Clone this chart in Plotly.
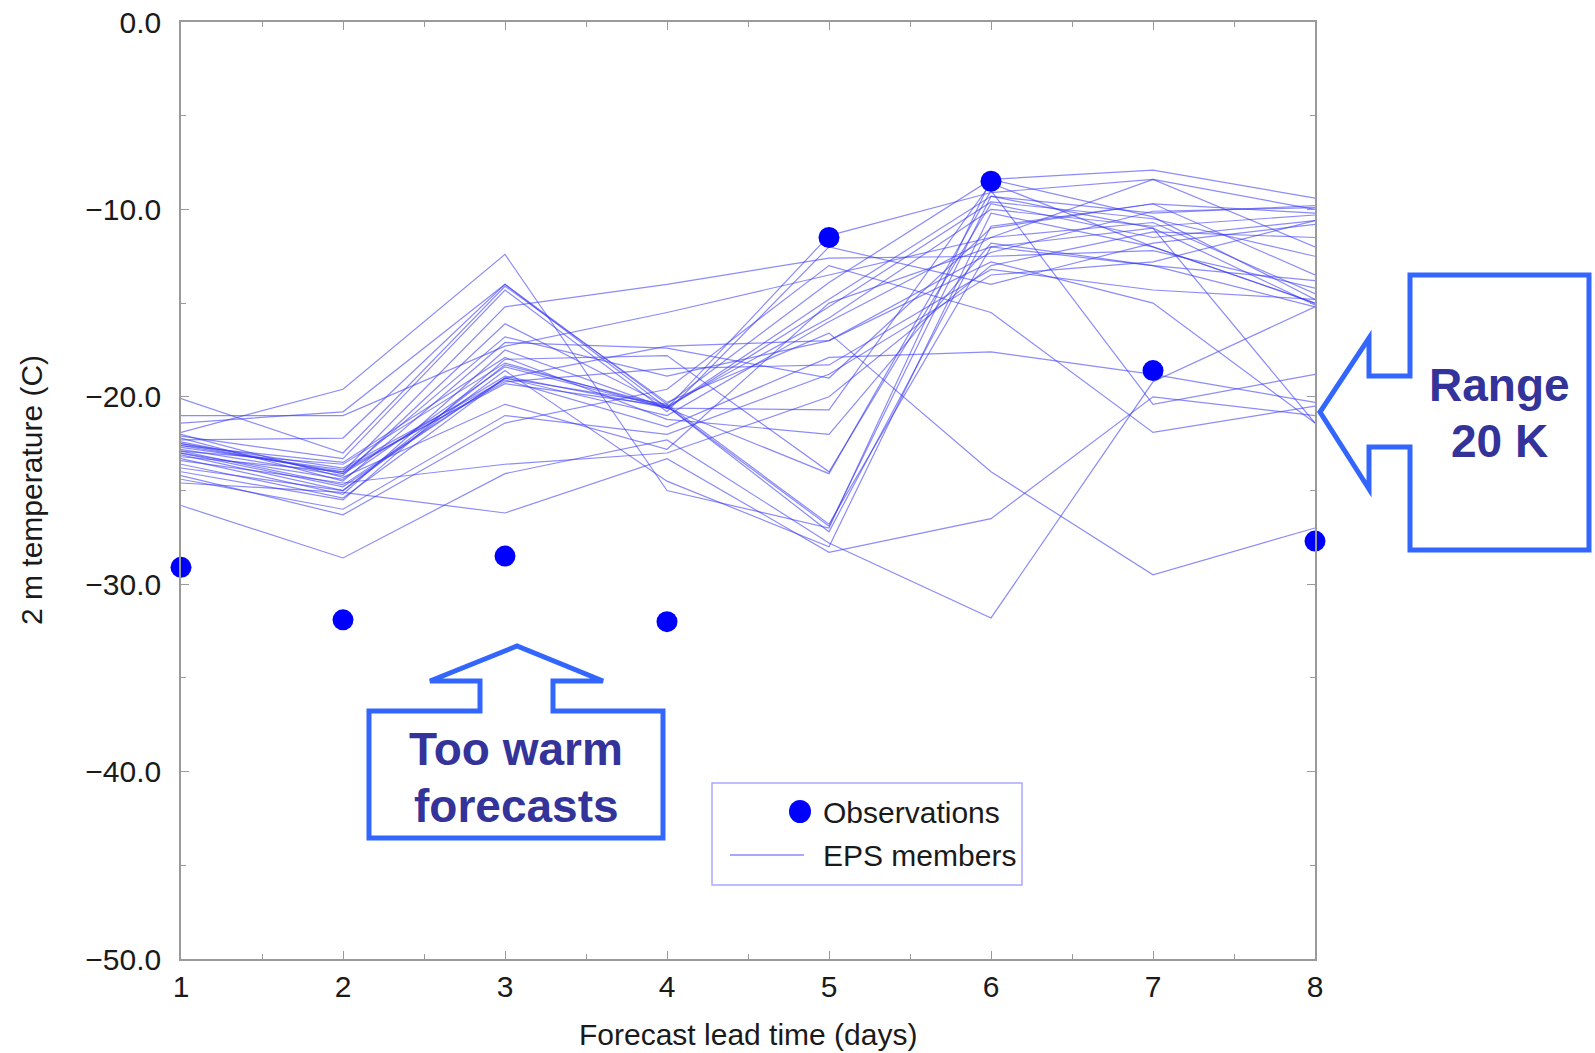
import plotly.graph_objects as go

# ---------------- data ----------------
lead_days = [1, 2, 3, 4, 5, 6, 7, 8]
obs_temp = [-29.1, -31.9, -28.5, -32.0, -11.5, -8.5, -18.6, -27.7]

m01 = [-21.9, -19.6, -12.4, -25.0, -27.0, -8.4, -10.4, -14.8]
m02 = [-21.4, -20.8, -14.0, -20.4, -13.9, -8.4, -7.9, -9.4]
m03 = [-22.3, -22.2, -14.0, -20.6, -11.4, -9.1, -8.4, -10.0]
m04 = [-20.1, -23.0, -14.1, -20.3, -16.6, -24.0, -29.5, -27.0]
m05 = [-22.6, -24.0, -15.2, -14.0, -12.6, -12.5, -12.2, -14.2]
m06 = [-22.8, -24.2, -16.1, -20.5, -15.8, -10.0, -10.9, -10.3]
m07 = [-22.2, -24.5, -17.1, -17.4, -19.0, -11.0, -9.7, -13.5]
m08 = [-23.3, -25.2, -17.5, -20.6, -20.7, -8.6, -12.0, -15.0]
m09 = [-24.0, -25.5, -18.0, -17.8, -24.0, -9.7, -11.5, -10.6]
m10 = [-23.0, -24.8, -19.0, -20.4, -26.8, -12.0, -11.0, -21.4]
m11 = [-22.5, -23.8, -19.1, -21.6, -17.9, -17.6, -18.8, -20.3]
m12 = [-24.6, -25.1, -26.2, -23.3, -28.3, -26.5, -20.0, -21.0]
m13 = [-25.8, -28.6, -24.1, -22.3, -27.8, -31.8, -19.2, -15.2]
m14 = [-23.2, -24.0, -19.2, -18.5, -18.3, -13.2, -14.3, -14.8]
m15 = [-22.9, -23.6, -18.2, -20.6, -14.8, -9.3, -10.2, -9.8]
m16 = [-23.6, -25.4, -19.0, -21.0, -16.0, -11.5, -8.4, -12.0]
m17 = [-22.0, -24.3, -20.4, -22.8, -15.0, -12.0, -13.0, -15.2]
m18 = [-24.2, -26.3, -21.4, -19.6, -13.0, -15.5, -21.9, -20.5]
m19 = [-23.4, -24.6, -23.6, -23.0, -20.0, -13.0, -11.2, -11.5]
m20 = [-22.7, -23.9, -19.3, -20.5, -27.2, -10.9, -9.7, -10.2]
m21 = [-21.0, -21.0, -17.3, -15.5, -13.5, -11.5, -10.7, -14.5]
m22 = [-23.8, -25.0, -18.6, -24.5, -28.0, -10.2, -12.0, -15.0]
m23 = [-22.5, -24.1, -16.8, -18.9, -17.0, -12.8, -15.0, -21.4]
m24 = [-23.0, -24.4, -18.4, -20.6, -24.1, -9.0, -20.4, -18.8]
m25 = [-22.1, -23.3, -14.3, -20.8, -12.0, -14.0, -11.8, -10.8]
m26 = [-22.4, -24.1, -18.9, -20.6, -15.2, -9.6, -10.5, -12.5]
m27 = [-23.1, -25.0, -18.3, -20.5, -26.9, -9.3, -11.0, -15.1]
m28 = [-22.9, -24.7, -19.0, -17.3, -17.0, -12.3, -10.1, -9.9]
m29 = [-22.6, -23.5, -17.9, -21.2, -22.0, -11.8, -13.0, -13.8]
m30 = [-24.4, -26.0, -21.0, -22.0, -18.8, -13.5, -12.8, -10.6]

members = [m01, m02, m03, m04, m05, m06, m07, m08, m09, m10, m11, m12, m13,
           m14, m15, m16, m17, m18, m19, m20, m21, m22, m23, m24, m25,
           m26, m27, m28, m29, m30]

x_ticks = [1, 2, 3, 4, 5, 6, 7, 8]
y_ticks = [-50, -40, -30, -20, -10, 0]

# ---------------- layout geometry ----------------
W, H = 1595, 1053
L, R, T, B = 181, 1315, 22, 959   # plot area in pixels


def px(x):
    return (x - L) / (R - L)


def py(y):
    return (B - y) / (B - T)


LINE_COL = "rgba(55,55,245,0.58)"
FONT = "Liberation Sans, Arial, sans-serif"
TXT = "#1a1a1a"

fig = go.Figure()

for m in members:
    fig.add_trace(go.Scatter(x=lead_days, y=m, mode="lines",
                             line=dict(color=LINE_COL, width=1.2),
                             showlegend=False, hoverinfo="skip"))

fig.add_trace(go.Scatter(x=lead_days, y=obs_temp, mode="markers",
                         marker=dict(color="#0000ff", size=21),
                         cliponaxis=False, showlegend=False))

axis_common = dict(showgrid=False, zeroline=False, showline=True,
                   linecolor="#9a9a9a", linewidth=1.5, mirror="ticks",
                   ticks="inside", ticklen=8, tickcolor="#9a9a9a", tickwidth=1.2,
                   automargin=False,
                   tickfont=dict(family=FONT, size=30, color=TXT))

fig.update_layout(
    width=W, height=H,
    margin=dict(l=L, r=W - R, t=T, b=H - B, autoexpand=False),
    plot_bgcolor="white", paper_bgcolor="white",
    xaxis=dict(range=[1, 8], tickvals=x_ticks, ticklabelstandoff=0,
               minor=dict(ticks="inside", ticklen=5, dtick=0.5, tickcolor="#9a9a9a"),
               **axis_common),
    yaxis=dict(range=[-50, 0], tickvals=y_ticks, tickformat=".1f",
               ticklabelstandoff=12,
               minor=dict(ticks="inside", ticklen=5, dtick=5, tickcolor="#9a9a9a"),
               **axis_common),
)

# axis titles
fig.add_annotation(text="Forecast lead time (days)", xref="paper", yref="paper",
                   x=px(748), y=py(1034), xanchor="center", yanchor="middle",
                   showarrow=False, font=dict(family=FONT, size=30, color=TXT))
fig.add_annotation(text="2 m temperature (C)", xref="paper", yref="paper",
                   x=px(31), y=py(490), xanchor="center", yanchor="middle",
                   showarrow=False, textangle=-90,
                   font=dict(family=FONT, size=30, color=TXT))

# legend box
fig.add_shape(type="rect", xref="paper", yref="paper",
              x0=px(712), x1=px(1022), y0=py(783), y1=py(885),
              line=dict(color="#a8a8ff", width=1.5), fillcolor="white")
fig.add_shape(type="circle", xref="paper", yref="paper",
              x0=px(789), x1=px(811), y0=py(800), y1=py(823),
              line=dict(color="#0000ff", width=0), fillcolor="#0000ff")
fig.add_shape(type="line", xref="paper", yref="paper",
              x0=px(730), x1=px(804), y0=py(855), y1=py(855),
              line=dict(color=LINE_COL, width=1.3))
fig.add_annotation(text="Observations", xref="paper", yref="paper",
                   x=px(821), y=py(812), xanchor="left", yanchor="middle",
                   showarrow=False, font=dict(family=FONT, size=30, color=TXT))
fig.add_annotation(text="EPS members", xref="paper", yref="paper",
                   x=px(821), y=py(855), xanchor="left", yanchor="middle",
                   showarrow=False, font=dict(family=FONT, size=30, color=TXT))

# callout arrows


def path(points):
    s = "M " + " L ".join(f"{px(a):.5f},{py(b):.5f}" for a, b in points) + " Z"
    return s


ARROW_COL = "#3366ff"
right_pts = [(1410, 275), (1589, 275), (1589, 550), (1410, 550), (1410, 447),
             (1369, 447), (1369, 489), (1320, 412), (1369, 338), (1369, 376),
             (1410, 376)]
bottom_pts = [(369, 711), (480, 711), (480, 681), (430, 681), (517, 646),
              (603, 681), (553, 681), (553, 711), (663, 711), (663, 838),
              (369, 838)]
for pts in (right_pts, bottom_pts):
    fig.add_shape(type="path", xref="paper", yref="paper", path=path(pts),
                  line=dict(color=ARROW_COL, width=5), fillcolor="white")

CALL_FONT = dict(family=FONT, size=46, color="#333399")
for txt, x, y in [("<b>Too warm</b>", 516, 749), ("<b>forecasts</b>", 516, 806),
                  ("<b>Range</b>", 1499, 385), ("<b>20 K</b>", 1499, 441)]:
    fig.add_annotation(text=txt, xref="paper", yref="paper", x=px(x), y=py(y),
                       xanchor="center", yanchor="middle", showarrow=False,
                       font=CALL_FONT)

fig.write_html("out.html")
